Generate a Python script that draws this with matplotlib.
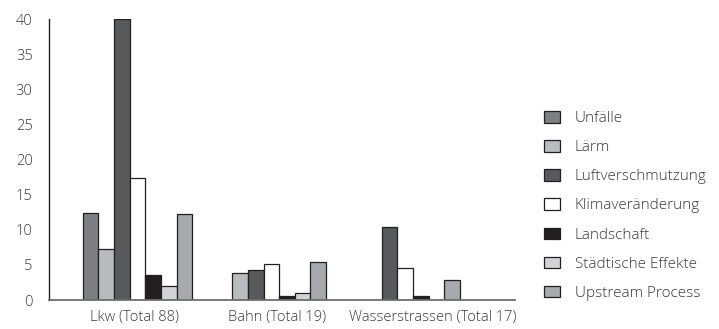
import matplotlib
matplotlib.use("Agg")
import matplotlib.pyplot as plt
import numpy as np
from matplotlib.patches import Patch

categories = ["Lkw (Total 88)", "Bahn (Total 19)", "Wasserstrassen (Total 17)"]
series_names = ["Unfälle", "Lärm", "Luftverschmutzung", "Klimaveränderung",
                "Landschaft", "Städtische Effekte", "Upstream Process"]
unfaelle = [12.4, 0, 0]
laerm = [7.2, 3.8, 0]
luft = [40, 4.3, 10.4]
klima = [17.3, 5.1, 4.5]
landschaft = [3.6, 0.6, 0.6]
staedtisch = [2.0, 1.0, 0]
upstream = [12.2, 5.4, 2.9]
series_values = [unfaelle, laerm, luft, klima, landschaft, staedtisch, upstream]
yticks = [0, 5, 10, 15, 20, 25, 30, 35, 40]

colors = ["#7e7f83", "#babbbe", "#58595b", "#ffffff", "#231f20", "#d2d3d5", "#a7a9ac"]
edge = "#231f20"
txt = "#3a3a3a"

plt.rcParams['font.family'] = ['Open Sans', 'DejaVu Sans']
plt.rcParams['font.weight'] = 'light'

fig = plt.figure(figsize=(7.19, 3.29), dpi=100)
ax = fig.add_axes([0.0686, 0.0881, 0.716 - 0.0686, 0.9422 - 0.0881])

x = np.arange(len(categories))
w = 0.117
n = len(series_names)
for i, (vals, c) in enumerate(zip(series_values, colors)):
    xs = x + (i - (n - 1) / 2) * w
    for xi, v in zip(xs, vals):
        if v > 0:
            ax.bar(xi, v, width=w, color=c, edgecolor=edge, linewidth=0.9, zorder=2)

ax.set_xlim(-0.66, 2.82)
ax.set_ylim(0, 40)
ax.set_yticks(yticks)
ax.set_yticklabels([str(t) for t in yticks])
ax.set_xticks([-0.026, 1.04, 2.21])
ax.set_xticklabels(categories)
ax.tick_params(axis='both', length=0, labelsize=10.5, colors=txt)
ax.tick_params(axis='y', pad=12)
ax.tick_params(axis='x', pad=7)
for s in ["top", "right"]:
    ax.spines[s].set_visible(False)
ax.spines["left"].set_color(edge)
ax.spines["left"].set_linewidth(1.0)
ax.spines["bottom"].set_color("#6d6e71")
ax.spines["bottom"].set_linewidth(1.3)

handles = [Patch(facecolor=c, edgecolor=edge, linewidth=0.9) for c in colors]
leg = fig.legend(handles, series_names, loc='center left', bbox_to_anchor=(0.757, 0.374),
                 frameon=False, fontsize=11, handlelength=1.05, handleheight=0.78,
                 handletextpad=0.95, labelspacing=0.92, borderpad=0, borderaxespad=0)
for t in leg.get_texts():
    t.set_color(txt)

fig.savefig("out.png", dpi=100)
